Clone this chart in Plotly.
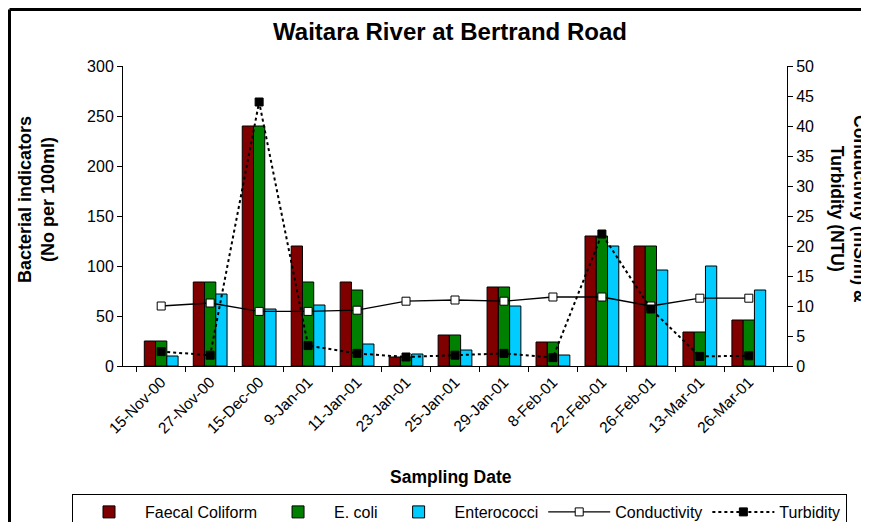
import plotly.graph_objects as go

dates = ["15-Nov-00", "27-Nov-00", "15-Dec-00", "9-Jan-01", "11-Jan-01", "23-Jan-01",
         "25-Jan-01", "29-Jan-01", "8-Feb-01", "22-Feb-01", "26-Feb-01", "13-Mar-01", "26-Mar-01"]
faecal_coliform = [25, 84, 240, 120, 84, 9, 31, 79, 24, 130, 120, 34, 46]
e_coli = [25, 84, 240, 84, 76, 9, 31, 79, 24, 130, 120, 34, 46]
enterococci = [10, 72, 57, 61, 22, 12, 16, 60, 11, 120, 96, 100, 76]
conductivity = [10.0, 10.5, 9.1, 9.1, 9.3, 10.8, 11.0, 10.8, 11.5, 11.5, 10.0, 11.3, 11.3]
turbidity = [2.4, 1.8, 44.0, 3.4, 2.1, 1.5, 1.8, 2.1, 1.4, 22.0, 9.5, 1.6, 1.7]

FONT = "Liberation Sans, Arial, sans-serif"

fig = go.Figure()
fig.add_trace(go.Bar(x=dates, y=faecal_coliform, name="Faecal Coliform",
                     marker=dict(color="#800000", line=dict(color="black", width=1))))
fig.add_trace(go.Bar(x=dates, y=e_coli, name="E. coli",
                     marker=dict(color="#008000", line=dict(color="black", width=1))))
fig.add_trace(go.Bar(x=dates, y=enterococci, name="Enterococci",
                     marker=dict(color="#00CCFF", line=dict(color="black", width=1))))
fig.add_trace(go.Scatter(x=dates, y=conductivity, name="Conductivity", yaxis="y2",
                         mode="lines+markers",
                         line=dict(color="black", width=1.3),
                         marker=dict(symbol="square", size=8, color="white",
                                     line=dict(color="black", width=1))))
fig.add_trace(go.Scatter(x=dates, y=turbidity, name="Turbidity", yaxis="y2",
                         mode="lines+markers",
                         line=dict(color="black", width=2, dash="dot"),
                         marker=dict(symbol="square", size=8, color="black",
                                     line=dict(color="black", width=1))))

OFF = 8  # page body margin
W, H = 869 - OFF, 522 - OFF
L, T = 123 - OFF, 66 - OFF
pw, ph = 664, 300
R = W - L - pw
B = H - T - ph

def px_x(xp):
    return (xp - OFF - L) / pw

def px_y(yp):
    return (T + ph - (yp - OFF)) / ph

fig.update_layout(
    width=W, height=H,
    margin=dict(l=L, r=R, t=T, b=B, autoexpand=False),
    paper_bgcolor="white", plot_bgcolor="white",
    font=dict(family=FONT, size=16, color="black"),
    barmode="group", bargap=0.31, bargroupgap=0,
    showlegend=True,
    title=dict(text="<b>Waitara River at Bertrand Road</b>", x=(450 - OFF) / W, xanchor="center",
               xref="container", yref="container",
               y=1 - 24 / H, yanchor="middle", font=dict(size=24, family=FONT, color="black")),
    xaxis=dict(type="category", tickangle=-45, ticks="outside", ticklen=5, tickson="boundaries",
               showline=True, linecolor="black", linewidth=1, showgrid=False, automargin=False,
               tickfont=dict(size=15.5), tickcolor="black"),
    yaxis=dict(range=[0, 300], dtick=50, ticks="outside", ticklen=5, showline=True,
               linecolor="black", linewidth=1, showgrid=False, zeroline=False, automargin=False,
               tickfont=dict(size=16), tickcolor="black"),
    yaxis2=dict(range=[0, 50], dtick=5, overlaying="y", side="right", ticks="outside",
                ticklen=5, showline=True, linecolor="black", linewidth=1, showgrid=False,
                zeroline=False, automargin=False, tickfont=dict(size=16), tickcolor="black"),
    legend=dict(orientation="h", x=px_x(72), xanchor="left", y=px_y(494), yanchor="top",
                bordercolor="black", borderwidth=1, bgcolor="white",
                font=dict(size=16), itemwidth=62, traceorder="normal"),
)

fig.add_annotation(text="<b>Bacterial indicators<br>(No per 100ml)</b>", textangle=-90,
                   x=px_x(36), y=px_y(200), xref="paper", yref="paper",
                   showarrow=False, font=dict(size=18), xanchor="center", yanchor="middle")
fig.add_annotation(text="<b>Conductivity (mS/m) &<br>Turbidity (NTU)</b>", textangle=90,
                   x=px_x(849), y=px_y(209), xref="paper", yref="paper",
                   showarrow=False, font=dict(size=17.5), xanchor="center", yanchor="middle")
fig.add_annotation(text="<b>Sampling Date</b>",
                   x=px_x(451), y=px_y(477), xref="paper", yref="paper",
                   showarrow=False, font=dict(size=17.5), xanchor="center", yanchor="middle")

# outer frame (top and left edges visible)
fig.add_shape(type="line", xref="paper", yref="paper",
              x0=px_x(9.5), x1=px_x(900), y0=px_y(9.5), y1=px_y(9.5),
              line=dict(color="black", width=3))
fig.add_shape(type="line", xref="paper", yref="paper",
              x0=px_x(9.5), x1=px_x(9.5), y0=px_y(9.5), y1=px_y(600),
              line=dict(color="black", width=3))

fig.write_html("out.html")
